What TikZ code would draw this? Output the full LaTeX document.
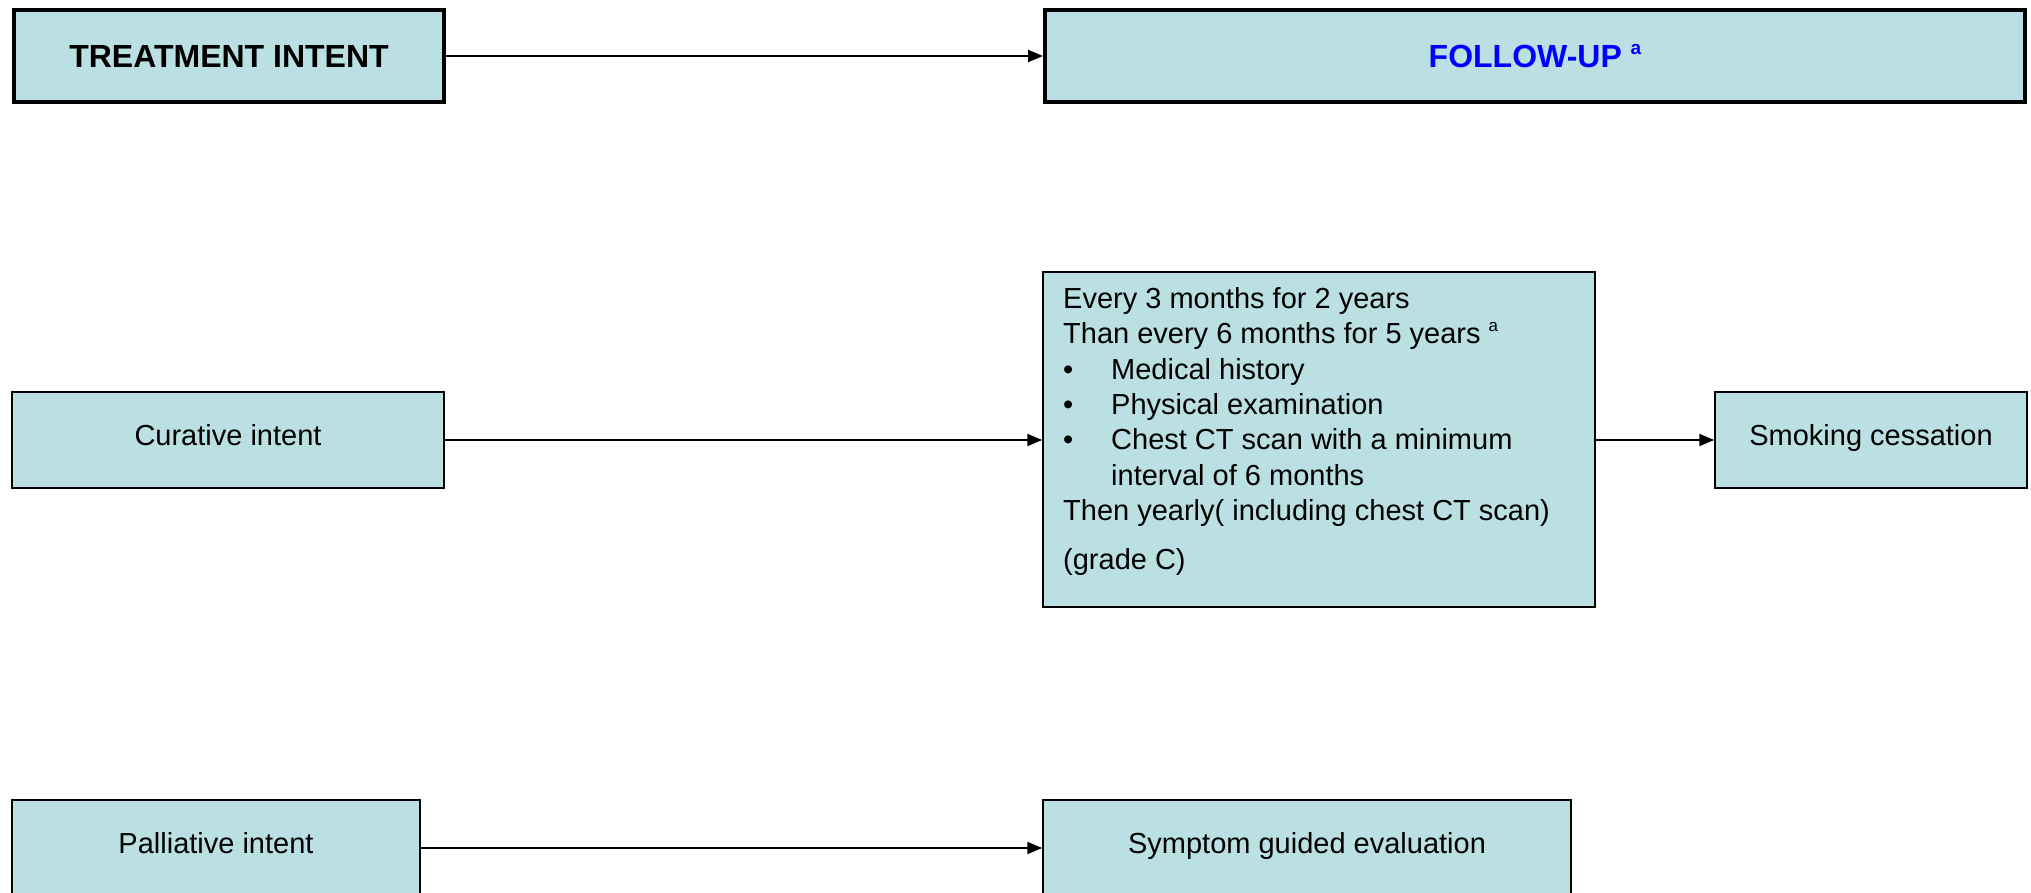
\documentclass[tikz,border=0pt]{standalone}
\usepackage{fontspec}
\setmainfont{Liberation Sans}
\usetikzlibrary{arrows.meta}
\definecolor{boxfill}{RGB}{186,224,227}
\definecolor{fublue}{RGB}{0,0,255}
\newcommand{\bodyfont}{\fontsize{29}{35.4}\selectfont}
\newcommand{\headfont}{\fontsize{32}{38}\selectfont\bfseries}
\newcommand{\supa}[1]{\raisebox{0.42em}{\fontsize{#1}{#1}\selectfont a}}
\newcommand{\bul}{\makebox[48pt][l]{\textbullet}}
\begin{document}
\begin{tikzpicture}[x=1pt,y=-1pt,
  headbox/.style={draw=black, line width=4pt, fill=boxfill, inner sep=0pt,
    text height=23pt, text depth=0pt, font=\headfont},
  plainbox/.style={draw=black, line width=1.5pt, fill=boxfill, inner sep=0pt,
    text height=21pt, text depth=10pt, font=\bodyfont},
  link/.style={-{Triangle[length=15pt,width=12pt]}, line width=2pt}]
\useasboundingbox (0,0) rectangle (2031,892);
\clip (0,0) rectangle (2031,892);
% header row
\node[headbox, minimum width=430pt, minimum height=92pt] (ti) at (229,56) {TREATMENT INTENT};
\node[headbox, minimum width=980pt, minimum height=92pt, text=fublue] (fu) at (1535,56) {FOLLOW-UP \supa{19}};
% curative row
\node[plainbox, minimum width=432pt, minimum height=96pt] (cur) at (228,440) {Curative intent};
\node[plainbox, minimum width=552pt, minimum height=335pt] (mb) at (1319,439.5) {};
\node[anchor=north west, inner sep=0pt, align=left, font=\bodyfont] (mbtext) at (1063,287) {%
Every 3 months for 2 years\\
Than every 6 months for 5 years \supa{17}\\
\bul Medical history\\
\bul Physical examination\\
\bul Chest CT scan with a minimum\\
\hspace*{48pt}interval of 6 months\\
Then yearly( including chest CT scan)\\[13.6pt]
(grade C)};
\node[plainbox, minimum width=312pt, minimum height=96pt] (smk) at (1871,440) {Smoking cessation};
% palliative row
\node[plainbox, minimum width=408pt, minimum height=96pt] (pal) at (216,848) {Palliative intent};
\node[plainbox, minimum width=528pt, minimum height=96pt] (sym) at (1307,848) {Symptom guided evaluation};
% connectors
\draw[link] (ti.east) -- (fu.west);
\draw[link] (cur.east) -- (cur.east -| mb.west);
\draw[link] (mb.east |- smk.west) -- (smk.west);
\draw[link] (pal.east) -- (sym.west);
\end{tikzpicture}
\end{document}
